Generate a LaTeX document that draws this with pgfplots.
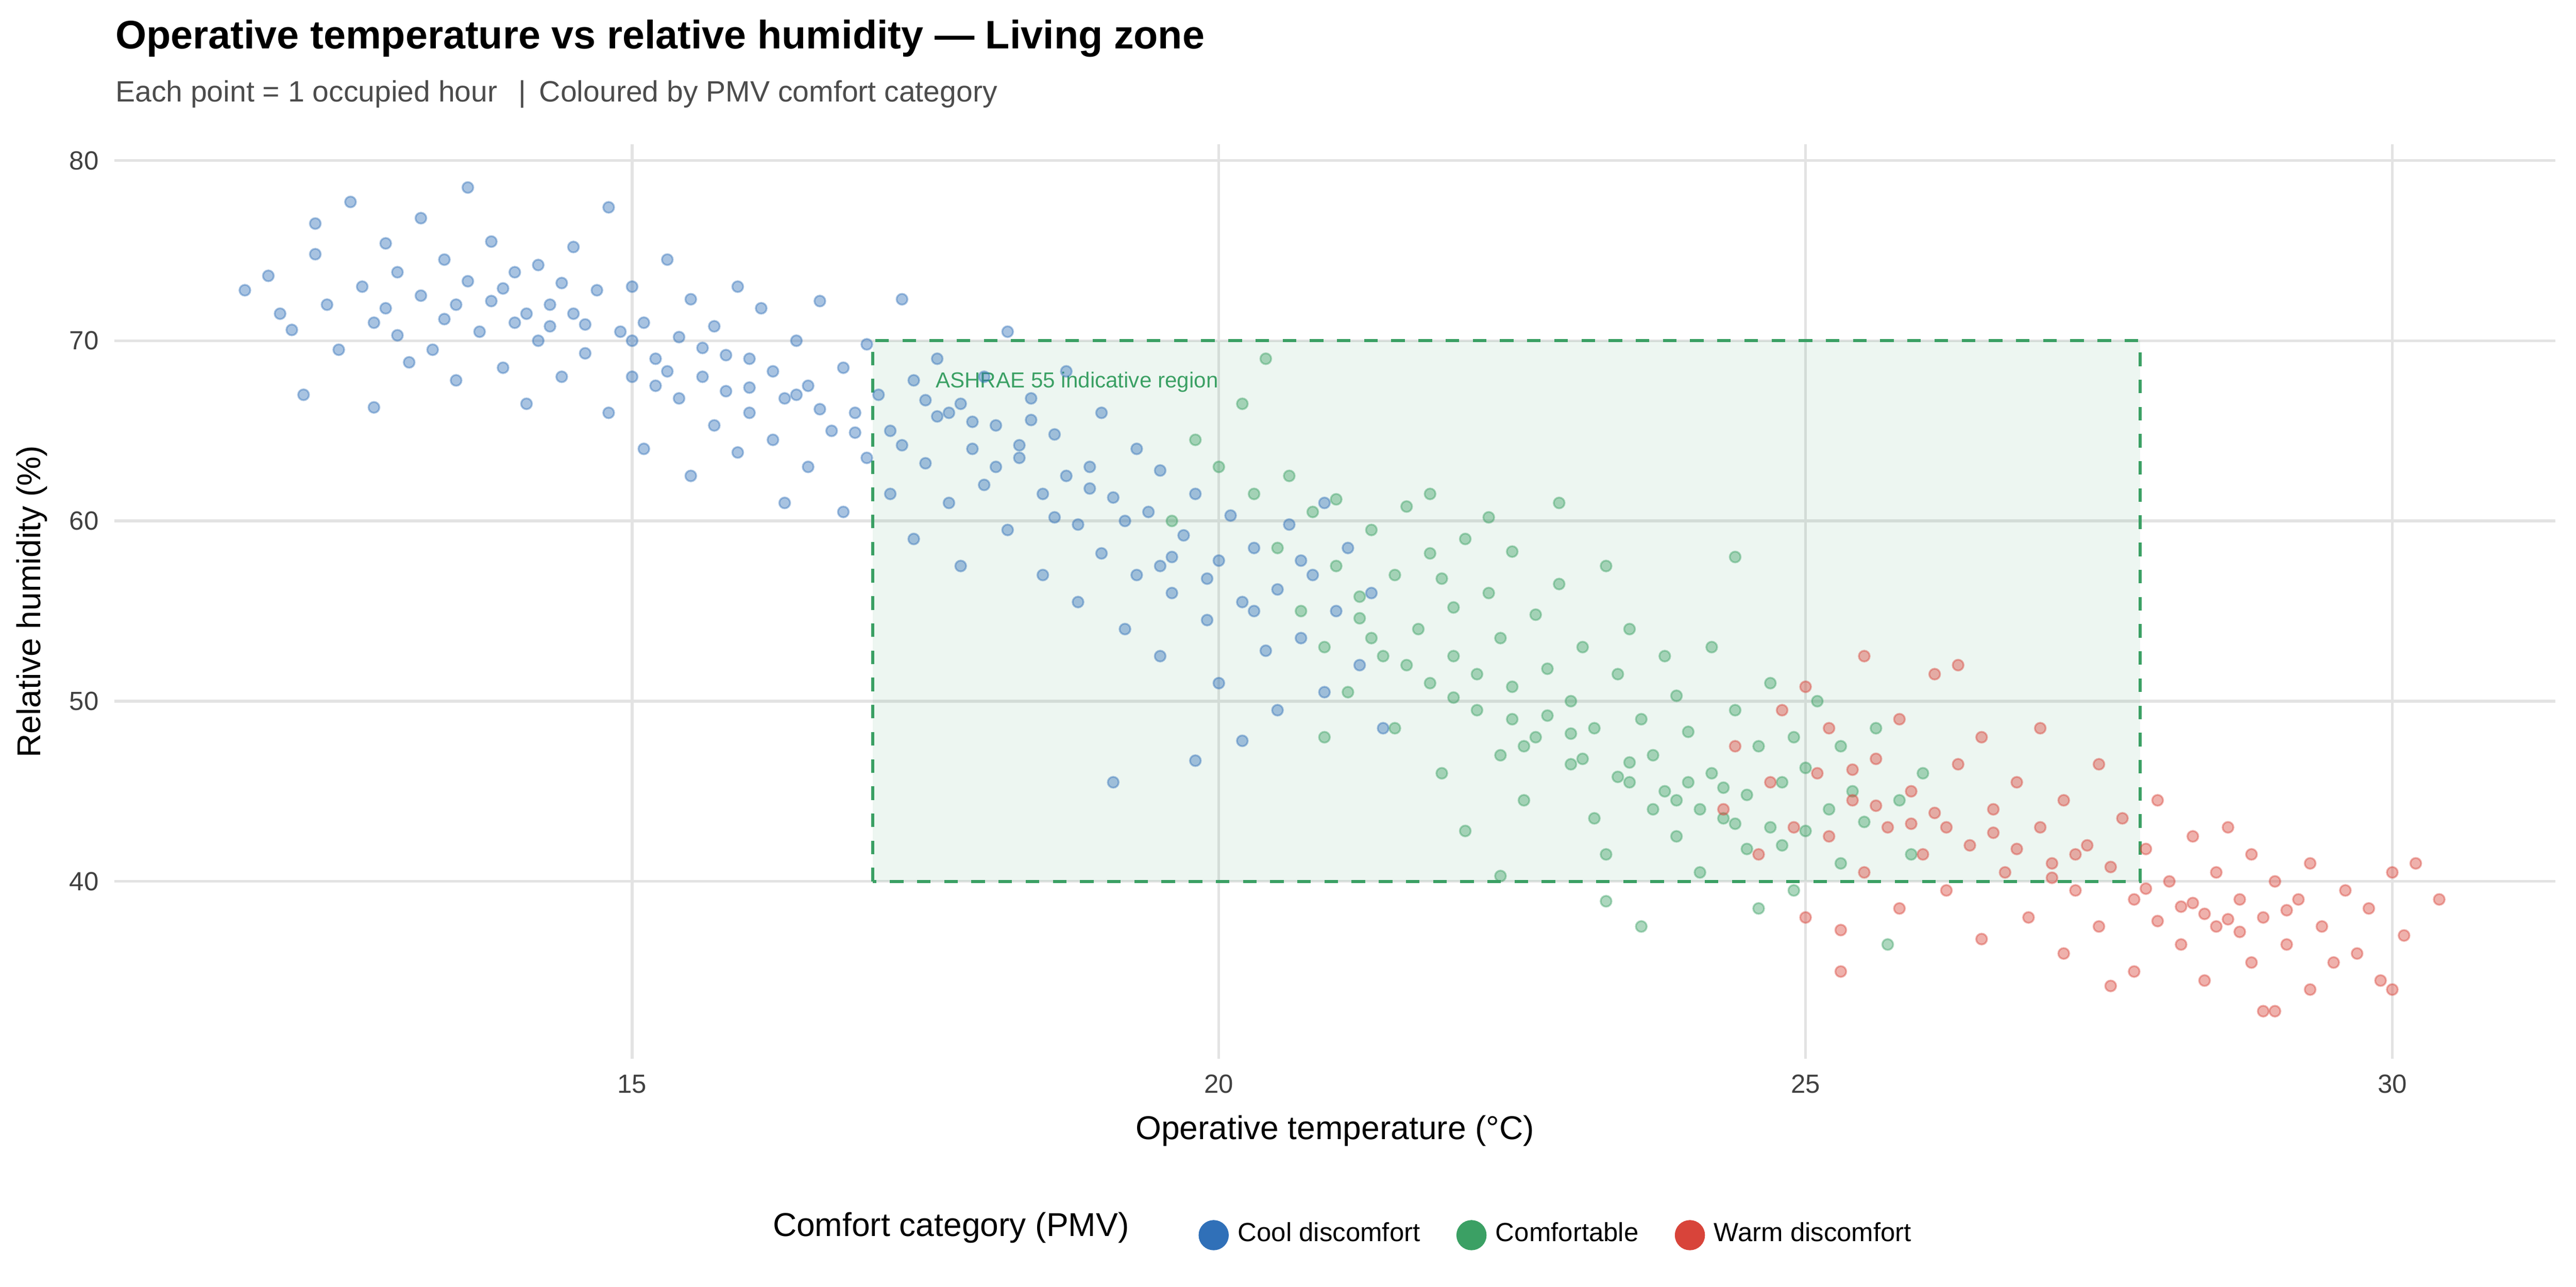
\documentclass[border=0pt]{standalone}
\usepackage{pgfplots}
\pgfplotsset{compat=1.18}
\usepackage{fontspec}
\setmainfont{Liberation Sans}
\definecolor{cblue}{HTML}{3070B8}
\definecolor{cgreen}{HTML}{3BA064}
\definecolor{cred}{HTML}{D8443A}
\begin{document}
\begin{tikzpicture}
\begin{axis}[
  scale only axis, width=18.95cm, height=7.1cm,
  xmin=10.59, xmax=31.39, ymin=30.16, ymax=80.9,
  axis line style={draw=none}, tick style={draw=none},
  xtick={15,20,25,30}, ytick={40,50,60,70,80},
  grid=major, grid style={gray!22, line width=0.6pt},
  /pgf/number format/assume math mode=true,
  tick label style={font=\fontsize{5.8}{7}\selectfont, text=black!75},
  xlabel={Operative temperature (°C)}, ylabel={Relative humidity (\%)},
  label style={font=\fontsize{7.3}{9}\selectfont},
  xlabel style={yshift=2pt}, ylabel style={yshift=-2pt},
  legend columns=-1,
  legend style={at={(0.592,-0.158)}, anchor=north, draw=none, fill=none, font=\fontsize{5.8}{7}\selectfont,
    /tikz/every even column/.append style={column sep=6pt}},
  legend image code/.code={\fill[#1, opacity=1, fill opacity=1] (0.1cm,0) circle (0.11cm);},
  clip=false,
]
\fill[cgreen, opacity=0.09] (axis cs:17.05,40) rectangle (axis cs:27.85,70);
\draw[cgreen, dashed, line width=0.7pt] (axis cs:17.05,40) rectangle (axis cs:27.85,70);
\node[anchor=west, text=cgreen, font=\fontsize{4.8}{6}\selectfont] at (axis cs:17.45,67.7) {ASHRAE 55 indicative region};

\addplot[only marks, mark=*, mark size=1.2pt, draw=cblue, fill=cblue, opacity=0.42] coordinates {
(11.7,72.8)(11.9,73.6)(12.0,71.5)(12.1,70.6)(12.2,67.0)(12.3,74.8)(12.3,76.5)(12.4,72.0)(12.5,69.5)(12.6,77.7)(12.7,73.0)(12.8,66.3)(12.8,71.0)(12.9,75.4)(13.0,70.3)(13.0,73.8)(13.1,68.8)(13.2,76.8)(13.2,72.5)(13.3,69.5)(13.4,74.5)(13.4,71.2)(13.5,67.8)(13.6,73.3)(13.6,78.5)(13.7,70.5)(13.8,72.2)(13.8,75.5)(13.9,68.5)(14.0,71.0)(14.0,73.8)(14.1,66.5)(14.2,70.0)(14.2,74.2)(14.3,72.0)(14.4,68.0)(14.5,71.5)(14.5,75.2)(14.6,69.3)(14.7,72.8)(14.8,77.4)(14.8,66.0)(14.9,70.5)(15.0,68.0)(15.0,73.0)(15.1,64.0)(15.1,71.0)(15.2,69.0)(15.3,74.5)(15.4,66.8)(15.4,70.2)(15.5,62.5)(15.5,72.3)(15.6,68.0)(15.7,65.3)(15.7,70.8)(15.8,67.2)(15.9,73.0)(15.9,63.8)(16.0,69.0)(16.0,66.0)(16.1,71.8)(16.2,64.5)(16.2,68.3)(16.3,61.0)(16.3,66.8)(16.4,70.0)(16.5,63.0)(16.5,67.5)(16.6,72.2)(16.7,65.0)(16.8,68.5)(16.8,60.5)(16.9,66.0)(17.0,63.5)(17.0,69.8)(17.1,67.0)(17.2,61.5)(17.2,65.0)(17.3,72.3)(17.4,59.0)(17.4,67.8)(17.5,63.2)(17.6,65.8)(17.6,69.0)(17.7,61.0)(17.8,66.5)(17.8,57.5)(17.9,64.0)(18.0,68.0)(18.0,62.0)(18.1,65.3)(18.2,59.5)(18.2,70.5)(18.3,63.5)(18.4,66.8)(18.5,57.0)(18.5,61.5)(18.6,64.8)(18.7,68.3)(18.8,59.8)(18.8,55.5)(18.9,63.0)(19.0,66.0)(19.0,58.2)(19.1,61.3)(19.2,54.0)(19.3,64.0)(19.3,57.0)(19.4,60.5)(19.5,52.5)(19.5,62.8)(19.6,56.0)(19.7,59.2)(19.8,46.7)(19.8,61.5)(19.9,54.5)(20.0,57.8)(20.0,51.0)(20.1,60.3)(20.2,47.8)(20.2,55.5)(20.3,58.5)(20.4,52.8)(20.5,56.2)(20.5,49.5)(20.6,59.8)(20.7,53.5)(20.8,57.0)(20.9,50.5)(21.0,55.0)(21.1,58.5)(21.2,52.0)(21.3,56.0)(21.4,48.5)(20.9,61.0)(19.1,45.5)
(14.3,70.8)(15.2,67.5)(16.6,66.2)(17.9,65.5)(18.3,64.2)(18.9,61.8)(17.5,66.7)(16.0,67.4)(13.9,72.9)(15.6,69.6)(18.6,60.2)(19.6,58.0)
(12.9,71.8)(13.5,72.0)(14.1,71.5)(14.6,70.9)(15.0,70.0)(15.3,68.3)(15.8,69.2)(16.4,67.0)(16.9,64.9)(17.3,64.2)(17.7,66.0)(18.1,63.0)(18.4,65.6)(18.7,62.5)(19.2,60.0)(19.5,57.5)(19.9,56.8)(20.3,55.0)(20.7,57.8)(14.4,73.2)
};
\addlegendentry{Cool discomfort}
\addplot[only marks, mark=*, mark size=1.2pt, draw=cgreen, fill=cgreen, opacity=0.42] coordinates {
(19.6,60.0)(19.8,64.5)(20.0,63.0)(20.2,66.5)(20.3,61.5)(20.4,69.0)(20.5,58.5)(20.6,62.5)(20.7,55.0)(20.8,60.5)(20.9,53.0)(21.0,57.5)(21.0,61.2)(21.1,50.5)(21.2,55.8)(21.3,59.5)(21.4,52.5)(21.5,57.0)(21.5,48.5)(21.6,60.8)(21.7,54.0)(21.8,51.0)(21.8,58.2)(21.9,46.0)(22.0,55.2)(22.0,52.5)(22.1,42.8)(22.1,59.0)(22.2,49.5)(22.3,56.0)(22.4,53.5)(22.4,47.0)(22.5,50.8)(22.5,58.3)(22.6,44.5)(22.7,54.8)(22.7,48.0)(22.8,51.8)(22.9,56.5)(23.0,46.5)(23.0,50.0)(23.1,53.0)(23.2,43.5)(23.2,48.5)(23.3,57.5)(23.3,41.5)(23.4,51.5)(23.5,45.5)(23.5,54.0)(23.6,49.0)(23.7,44.0)(23.7,47.0)(23.8,52.5)(23.9,42.5)(23.9,50.3)(24.0,45.5)(24.0,48.3)(24.1,40.5)(24.2,53.0)(24.2,46.0)(24.3,43.5)(24.4,49.5)(24.4,58.0)(24.5,44.8)(24.5,41.8)(24.6,47.5)(24.7,43.0)(24.7,51.0)(24.8,45.5)(24.9,39.5)(24.9,48.0)(25.0,42.8)(25.0,46.3)(25.1,50.0)(25.2,44.0)(25.3,41.0)(25.3,47.5)(25.4,45.0)(25.5,43.3)(25.6,48.5)(25.7,36.5)(25.8,44.5)(25.9,41.5)(26.0,46.0)(23.3,38.9)(23.6,37.5)(22.4,40.3)(24.6,38.5)(21.3,53.5)(20.9,48.0)(22.9,61.0)(21.8,61.5)(22.3,60.2)
(22.6,47.5)(23.4,45.8)(23.9,44.5)(24.3,45.2)(22.8,49.2)(23.1,46.8)(24.1,44.0)(22.2,51.5)
(21.2,54.6)(21.6,52.0)(22.0,50.2)(22.5,49.0)(23.0,48.2)(23.5,46.6)(23.8,45.0)(24.4,43.2)(24.8,42.0)(21.9,56.8)
};
\addlegendentry{Comfortable}
\addplot[only marks, mark=*, mark size=1.2pt, draw=cred, fill=cred, opacity=0.42] coordinates {
(24.3,44.0)(24.4,47.5)(24.6,41.5)(24.7,45.5)(24.8,49.5)(24.9,43.0)(25.0,50.8)(25.0,38.0)(25.1,46.0)(25.2,42.5)(25.2,48.5)(25.3,37.3)(25.4,44.5)(25.5,40.5)(25.5,52.5)(25.6,46.8)(25.7,43.0)(25.8,49.0)(25.8,38.5)(25.9,45.0)(26.0,41.5)(26.1,51.5)(26.1,43.8)(26.2,39.5)(26.3,46.5)(26.4,42.0)(26.5,36.8)(26.5,48.0)(26.6,44.0)(26.7,40.5)(26.8,45.5)(26.9,38.0)(27.0,43.0)(27.0,48.5)(27.1,41.0)(27.2,36.0)(27.2,44.5)(27.3,39.5)(27.4,42.0)(27.5,46.5)(27.5,37.5)(27.6,40.8)(27.7,43.5)(27.8,35.0)(27.8,39.0)(27.9,41.8)(28.0,37.8)(28.0,44.5)(28.1,40.0)(28.2,36.5)(28.3,42.5)(28.3,38.8)(28.4,34.5)(28.5,40.5)(28.5,37.5)(28.6,43.0)(28.7,39.0)(28.8,35.5)(28.8,41.5)(28.9,38.0)(29.0,32.8)(29.0,40.0)(29.1,36.5)(29.2,39.0)(29.3,34.0)(29.3,41.0)(29.4,37.5)(29.5,35.5)(29.6,39.5)(29.7,36.0)(29.8,38.5)(29.9,34.5)(30.0,34.0)(30.0,40.5)(30.1,37.0)(30.2,41.0)(30.4,39.0)(26.3,52.0)(25.3,35.0)(27.6,34.2)(28.9,32.8)
(28.4,38.2)(28.6,37.9)(27.9,39.6)(26.6,42.7)(25.9,43.2)(27.3,41.5)(28.2,38.6)
(25.6,44.2)(26.2,43.0)(26.8,41.8)(27.1,40.2)(28.7,37.2)(29.1,38.4)(25.4,46.2)
};
\addlegendentry{Warm discomfort}
\node[anchor=base west, font=\bfseries\fontsize{8.8}{10}\selectfont, inner sep=0pt] at ([yshift=0.74cm]rel axis cs:0,1) {Operative temperature vs relative humidity — Living zone};
\node[anchor=base west, font=\fontsize{6.5}{8}\selectfont, text=black!70, inner sep=0pt] at ([yshift=0.33cm]rel axis cs:0,1) {Each point = 1 occupied hour \ \,|\ \,Coloured by PMV comfort category};
\end{axis}
\node[anchor=east, font=\fontsize{7.3}{9}\selectfont] at (8.0cm,-1.31cm) {Comfort category (PMV)};
\path[use as bounding box] (-0.89cm,-1.77cm) rectangle (19.11cm,8.22cm);
\end{tikzpicture}
\end{document}
